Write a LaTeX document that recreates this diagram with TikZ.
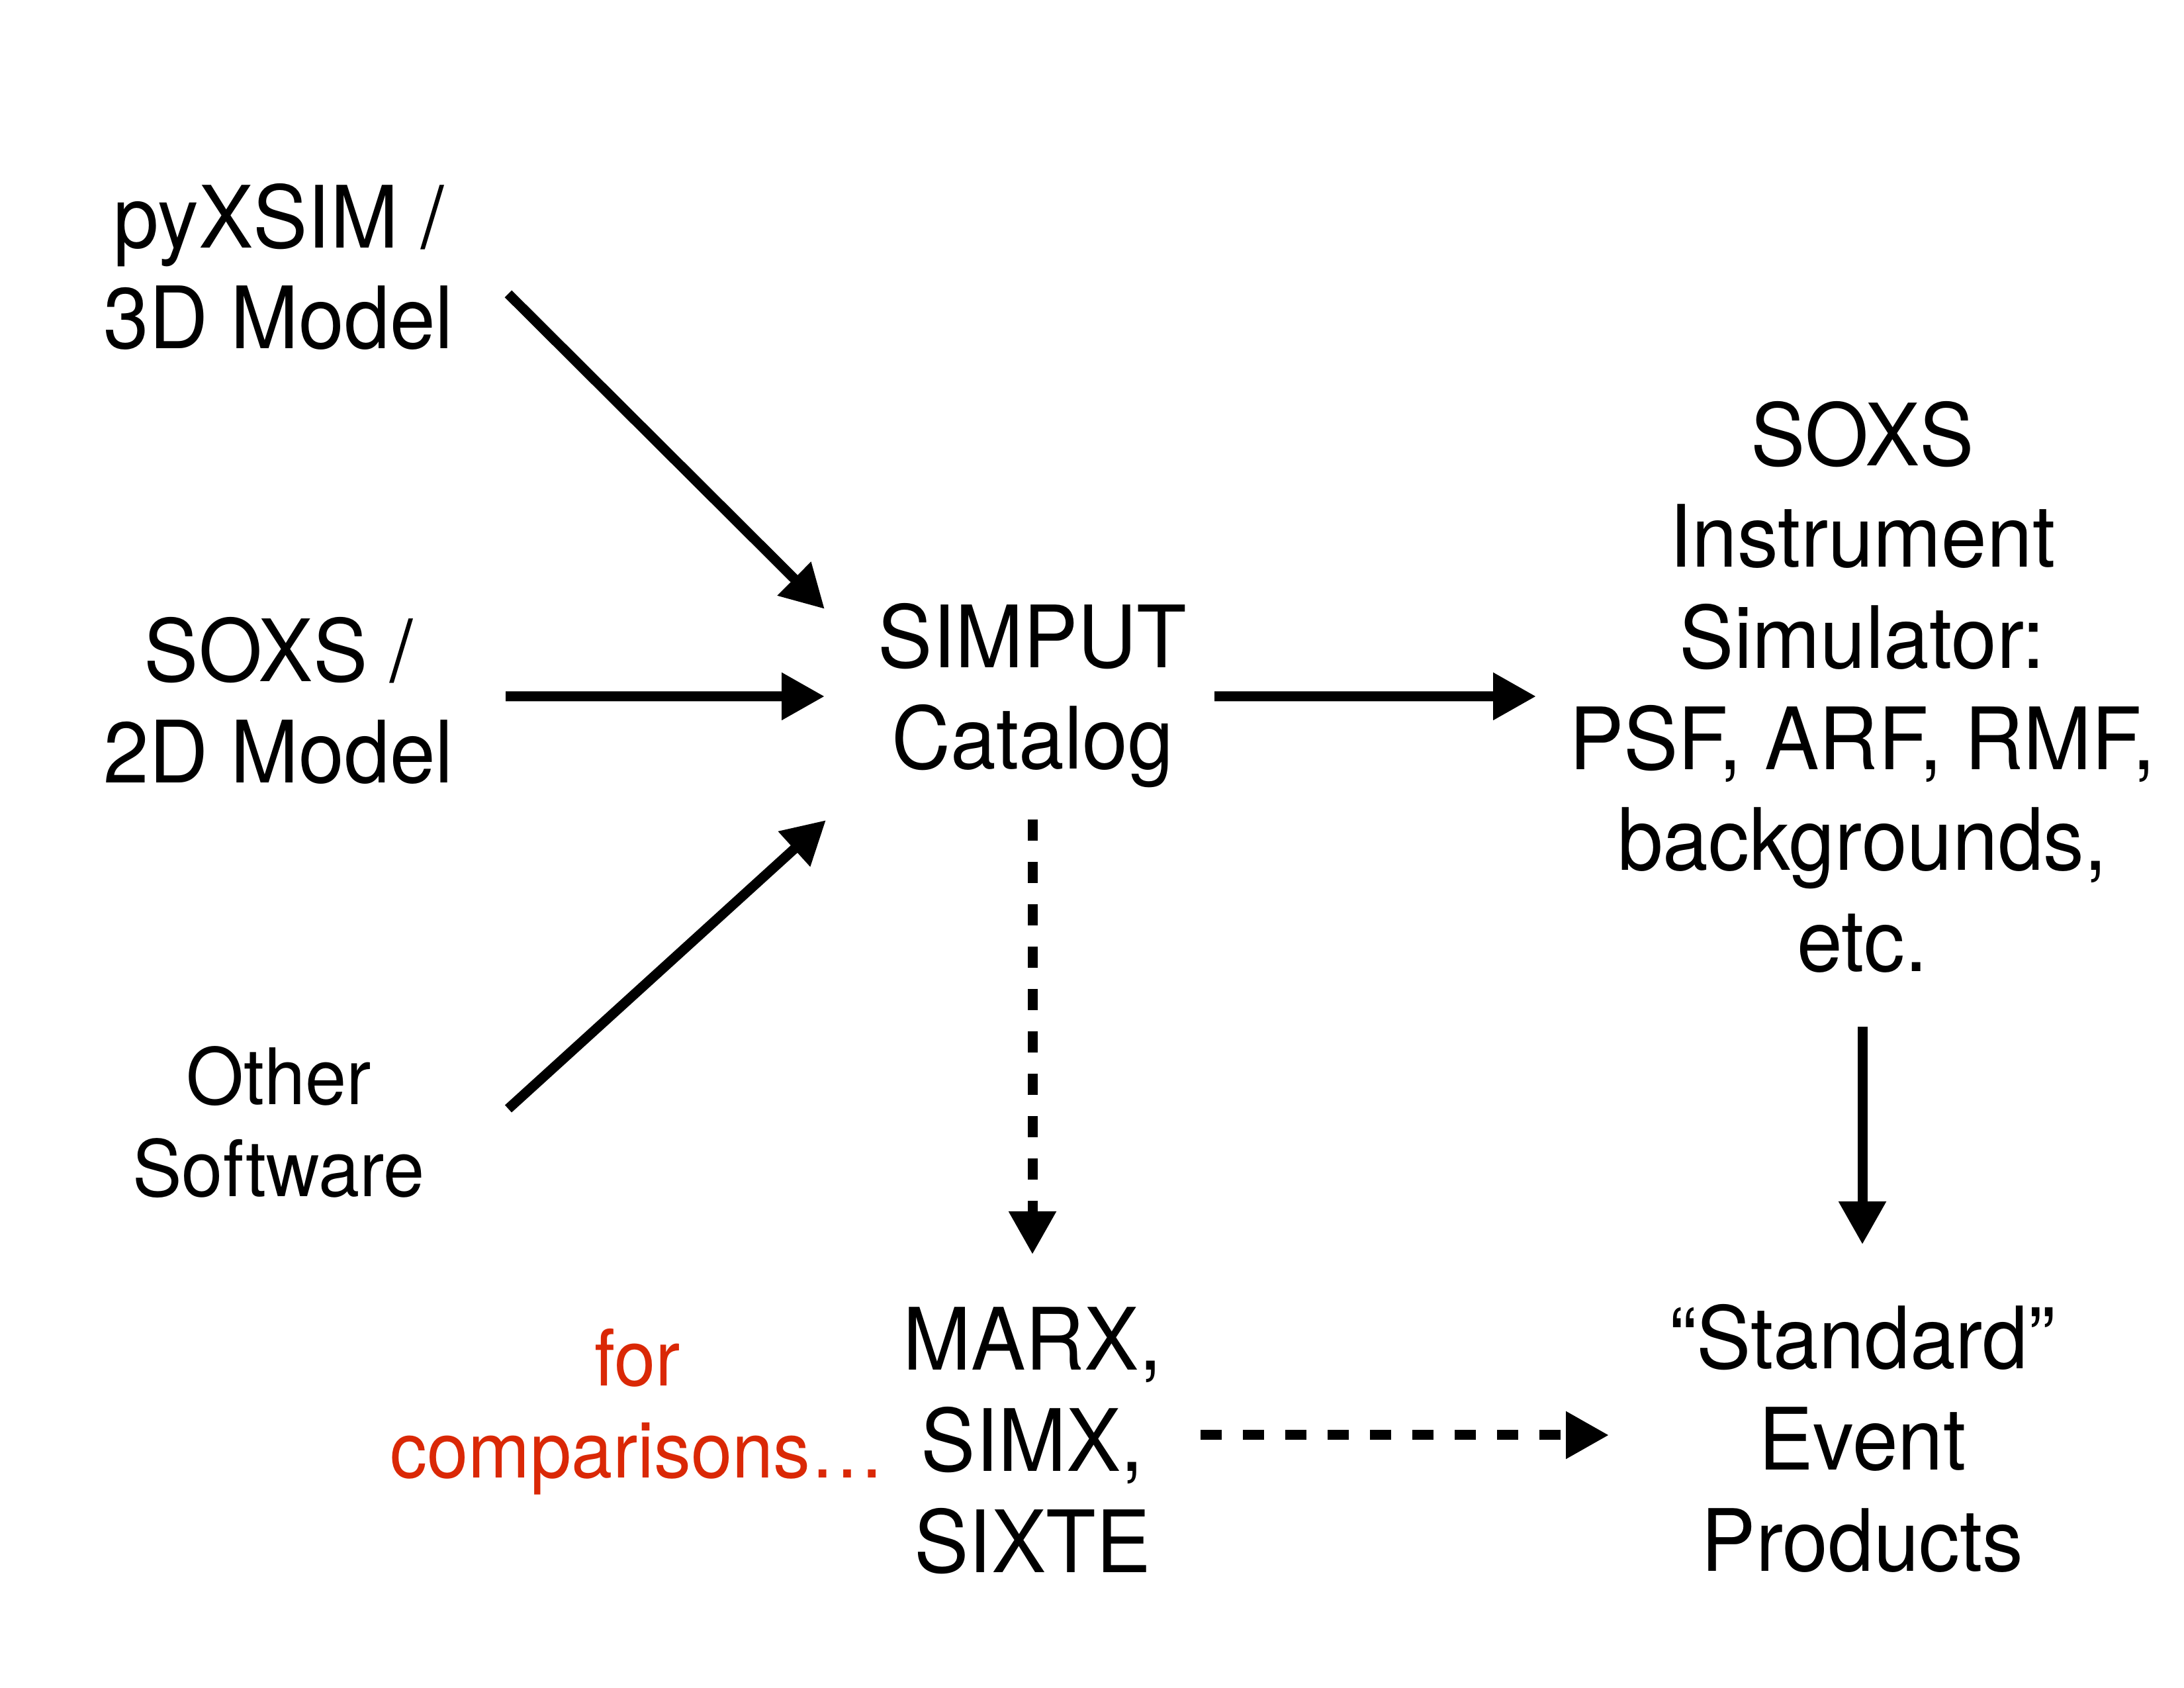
\documentclass[tikz,border=0pt]{standalone}
\usepackage{fontspec}
\setmainfont{TeX Gyre Heros}[FakeStretch=0.95]
\usetikzlibrary{arrows.meta}
\definecolor{cmpred}{RGB}{218,40,6}

\begin{document}
\begin{tikzpicture}[
		big/.style={align=center, inner sep=0pt, font=\fontsize{37pt}{43.5pt}\selectfont},
		small/.style={align=center, inner sep=0pt, font=\fontsize{33.5pt}{39.5pt}\selectfont},
		arr/.style={line width=0.15cm, -{Triangle[length=0.65cm, width=0.68cm]}},
		darr/.style={arr, dash pattern=on 0.32cm off 0.32cm}]
	\useasboundingbox (0,0) rectangle (33,25.5);

	% inputs
	\node[big] (pyx) at (4.21,21.47) {pyXSIM /\\3D Model};
	\node[big] (soxs2d) at (4.21,14.92) {SOXS /\\2D Model};
	\node[small] (other) at (4.21,8.55) {Other\\Software};

	% middle and right
	\node[big] (simput) at (15.60,14.99) {SIMPUT\\Catalog};
	\node[big] (inst) at (28.14,15.12) {SOXS\\Instrument\\Simulator:\\PSF, ARF, RMF,\\backgrounds,\\etc.};
	\node[big] (marx) at (15.60,3.74) {MARX,\\SIMX,\\SIXTE};
	\node[small, text=cmpred] (cmp) at (9.63,4.17) {for\\comparisons…};
	\node[big] (std) at (28.14,3.77) {“Standard”\\Event\\Products};

	\draw[arr] ([shift={(3.47,-0.41)}]pyx.center) -- ([shift={(-3.14,1.31)}]simput.center);
	\draw[arr] ([shift={(3.43,0.06)}]soxs2d.center) -- ([shift={(-3.14,-0.01)}]simput.center);
	\draw[arr] ([shift={(3.47,0.20)}]other.center) -- ([shift={(-3.12,-1.88)}]simput.center);
	\draw[arr] ([shift={(2.75,-0.01)}]simput.center) -- ([shift={(-4.93,-0.14)}]inst.center);
	\draw[darr] ([shift={(0,-1.87)}]simput.center) -- ([shift={(0,2.81)}]marx.center);
	\draw[arr] ([shift={(0,-5.13)}]inst.center) -- ([shift={(0,2.93)}]std.center);
	\draw[darr] ([shift={(2.54,0.08)}]marx.center) -- ([shift={(-3.83,0.05)}]std.center);
\end{tikzpicture}
\end{document}
